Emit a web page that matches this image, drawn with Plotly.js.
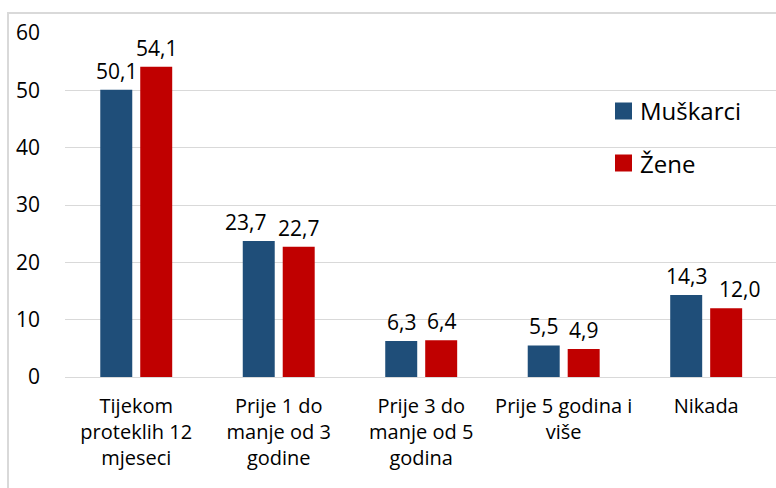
<!DOCTYPE html>
<html>
<head>
<meta charset="utf-8">
<script src="https://cdn.plot.ly/plotly-3.0.1.min.js"></script>
<style>html,body{margin:0;padding:0;background:#fff;}#chart{width:776px;height:488px;}</style>
</head>
<body>
<div id="chart"></div>
<script>
const categories = ["Tijekom<br>proteklih 12<br>mjeseci", "Prije 1 do<br>manje od 3<br>godine", "Prije 3 do<br>manje od 5<br>godina", "Prije 5 godina i<br>više", "Nikada"];
const muskarci = [50.1, 23.7, 6.3, 5.5, 14.3];
const zene = [54.1, 22.7, 6.4, 4.9, 12.0];
const seriesNames = ["Muškarci", "Žene"];
const seriesColors = ['#1F4E79', '#C00000'];
const yTicks = [0, 10, 20, 30, 40, 50, 60];
// label nudges (px) as in the original, where labels were moved apart
const labelNudge = [[0, -13, 0, 0, 0], [0, 0, 0, 0, 13]];

const fmt = v => v.toFixed(1).replace('.', ',');
const FONT = "Open Sans, Liberation Sans, sans-serif";
const allSeries = [muskarci, zene];

const traces = allSeries.map((vals, i) => ({
  type: 'bar', name: seriesNames[i], x: categories, y: vals,
  marker: {color: seriesColors[i]}, hoverinfo: 'none', showlegend: false
}));

const px2x = px => (px - 65) / 711;
const px2y = py => (377 - py) / 344;
const shapes = [{type: 'rect', xref: 'paper', yref: 'paper', x0: px2x(8), x1: 1.2,
            y0: -0.5, y1: px2y(13), line: {color: '#d9d9d9', width: 2}, layer: 'below'}];
const annotations = [];

// data labels
allSeries.forEach((vals, i) => {
  vals.forEach((v, j) => {
    annotations.push({xref: 'x', yref: 'y', x: categories[j], y: v, text: fmt(v), showarrow: false,
      xanchor: 'center', yanchor: 'bottom', xshift: (i === 0 ? -20 : 20) + labelNudge[i][j], yshift: 3,
      font: {family: FONT, size: 21, color: '#000'}});
  });
});

// custom legend (bigger square markers like the original)
const legendRows = [111, 163];
seriesNames.forEach((n, i) => {
  const cy = legendRows[i];
  shapes.push({type: 'rect', xref: 'paper', yref: 'paper', x0: px2x(615), x1: px2x(632),
    y0: px2y(cy + 8.5), y1: px2y(cy - 8.5), fillcolor: seriesColors[i], line: {width: 0}});
  annotations.push({xref: 'paper', yref: 'paper', x: px2x(638), y: px2y(cy), text: n,
    showarrow: false, xanchor: 'left', yanchor: 'middle', font: {family: FONT, size: 24, color: '#000'}});
});

const layout = {
  width: 776, height: 488,
  margin: {l: 65, r: 0, t: 33, b: 111},
  paper_bgcolor: '#fff', plot_bgcolor: '#fff',
  font: {family: FONT, color: '#000'},
  barmode: 'group', bargap: 0.439, bargroupgap: 0.2,
  xaxis: {range: [-0.5, 4.49], tickfont: {size: 20, family: FONT}, ticks: '', showgrid: false,
          showline: false, ticklabelstandoff: 15, fixedrange: true},
  yaxis: {range: [0, 60], tickvals: yTicks, ticktext: yTicks.map(String), tickfont: {size: 21, family: FONT},
          showgrid: true, gridcolor: '#d9d9d9', gridwidth: 1, zeroline: true, zerolinecolor: '#d9d9d9',
          zerolinewidth: 1, ticks: '', ticklabelstandoff: 24, fixedrange: true},
  showlegend: false,
  shapes: shapes,
  annotations: annotations
};

Plotly.newPlot('chart', traces, layout, {displayModeBar: false, staticPlot: true});
</script>
</body>
</html>
